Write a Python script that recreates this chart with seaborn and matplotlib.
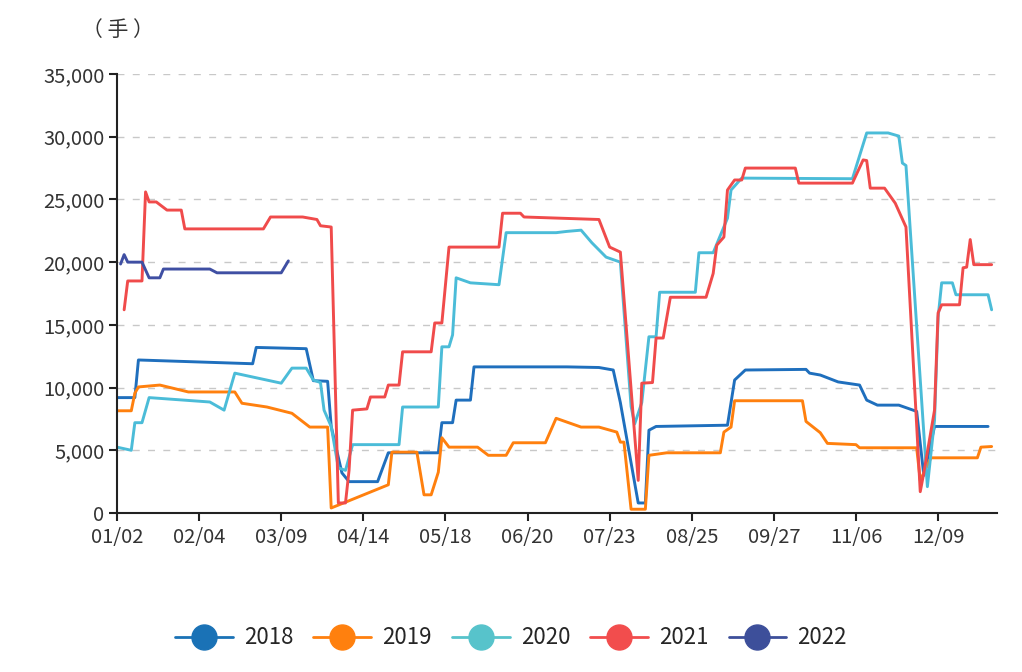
import matplotlib
matplotlib.use("Agg")
import matplotlib.pyplot as plt
from matplotlib.lines import Line2D
import seaborn as sns
import pandas as pd

# x = trading-day index from the first trading day (01/02); tick every 23 days
tick_labels = ["01/02", "02/04", "03/09", "04/14", "05/18", "06/20",
               "07/23", "08/25", "09/27", "11/06", "12/09"]

x2018 = [0, 5, 6, 38, 39, 53, 55, 59, 60, 63, 65, 73, 76, 90, 91, 94, 95, 99, 100,
         126, 135, 139, 141, 146, 148, 149, 151, 171, 173, 176, 193, 194, 197, 202,
         208, 210, 213, 219, 223, 224, 226, 229, 244]
y2018 = [9200, 9200, 12200, 11900, 13200, 13100, 10550, 10500, 6900, 3200, 2500,
         2500, 4800, 4800, 7200, 7200, 9000, 9000, 11650, 11650, 11600, 11400, 8800,
         800, 800, 6600, 6900, 7000, 10600, 11400, 11450, 11150, 11000, 10450, 10200,
         9000, 8600, 8600, 8200, 8100, 3000, 6900, 6900]

x2019 = [0, 4, 5, 6, 12, 20, 33, 35, 42, 49, 54, 59, 60, 76, 77, 84, 86, 88, 90, 91,
         93, 101, 104, 109, 111, 120, 123, 127, 130, 135, 140, 141, 142, 144, 148,
         149, 154, 169, 170, 172, 173, 192, 193, 197, 199, 207, 208, 224, 225, 228,
         241, 242, 245]
y2019 = [8150, 8150, 9550, 10050, 10200, 9650, 9650, 8750, 8450, 7950, 6850, 6850,
         400, 2250, 4850, 4850, 1450, 1450, 3250, 6000, 5250, 5250, 4600, 4600, 5600,
         5600, 7550, 7150, 6850, 6850, 6450, 5650, 5650, 300, 300, 4600, 4800, 4800,
         6450, 6850, 8950, 8950, 7300, 6400, 5550, 5450, 5200, 5200, 2600, 4400, 4400,
         5250, 5300]

x2020 = [0, 4, 5, 7, 9, 26, 30, 33, 46, 49, 53, 55, 57, 58, 60, 62, 64, 66, 79, 80,
         90, 91, 93, 94, 95, 99, 107, 109, 123, 126, 130, 133, 137, 141, 144, 145,
         147, 149, 151, 152, 162, 163, 167, 171, 172, 175, 206, 210, 216, 219, 220,
         221, 227, 229, 230, 231, 234, 235, 244, 245]
y2020 = [5250, 5000, 7200, 7200, 9200, 8850, 8200, 11150, 10350, 11550, 11550, 10600,
         10400, 8200, 6900, 3600, 3400, 5450, 5450, 8450, 8450, 13250, 13250, 14200,
         18750, 18350, 18200, 22350, 22350, 22450, 22550, 21550, 20400, 20000, 8500,
         7100, 8800, 14050, 14050, 17600, 17600, 20750, 20750, 23500, 25750, 26700,
         26650, 30300, 30300, 30050, 27900, 27700, 2100, 7400, 15600, 18350, 18350,
         17400, 17400, 16200]

x2021 = [2, 3, 7, 8, 9, 11, 14, 18, 19, 41, 43, 52, 56, 57, 60, 62, 64, 65, 66, 70,
         71, 75, 76, 79, 80, 88, 89, 91, 93, 107, 108, 113, 114, 135, 138, 141, 146,
         147, 150, 151, 153, 155, 165, 167, 168, 170, 171, 173, 175, 176, 190, 191,
         206, 209, 210, 211, 215, 218, 221, 225, 226, 229, 230, 231, 236, 237, 238,
         239, 240, 245]
y2021 = [16200, 18500, 18500, 25600, 24800, 24800, 24150, 24150, 22650, 22650, 23600,
         23600, 23400, 22900, 22800, 800, 800, 3400, 8200, 8300, 9250, 9250, 10200,
         10200, 12850, 12850, 15150, 15150, 21200, 21200, 23900, 23900, 23600, 23400,
         21200, 20800, 2600, 10350, 10400, 13950, 13950, 17200, 17200, 19100, 21350,
         22000, 25750, 26550, 26550, 27500, 27500, 26300, 26300, 28150, 28100, 25900,
         25900, 24700, 22800, 1700, 3200, 8200, 15950, 16600, 16600, 19550, 19600,
         21800, 19800, 19800]

x2022 = [1, 2, 3, 7, 9, 12, 13, 26, 28, 46, 48]
y2022 = [19850, 20600, 20000, 20000, 18750, 18750, 19450, 19450, 19150, 19150, 20100]

years = ["2018", "2019", "2020", "2021", "2022"]
line_colors = ["#1f6fbd", "#ff800e", "#4bbcd8", "#f04b4b", "#3f4fa3"]
legend_colors = ["#1a72b6", "#ff800e", "#57c3cb", "#f24d4d", "#3d4f9a"]

frames = []
for yr, xs, ys in zip(years, [x2018, x2019, x2020, x2021, x2022],
                      [y2018, y2019, y2020, y2021, y2022]):
    frames.append(pd.DataFrame({"day": xs, "value": ys, "year": yr}))
df = pd.concat(frames, ignore_index=True)

sns.set_theme(style="white")
plt.rcParams['font.family'] = ['Noto Sans CJK SC', 'DejaVu Sans']

fig = plt.figure(figsize=(10.22, 6.72), dpi=100)
ax = fig.add_axes([117 / 1022, 1 - 513 / 672, (997 - 117) / 1022, (513 - 74) / 672])

for yr, col in zip(years, line_colors):
    sub = df[df["year"] == yr]
    sns.lineplot(data=sub, x="day", y="value", ax=ax, color=col, linewidth=2.1,
                 estimator=None, sort=False, legend=False)

ax.set_xlim(0, 246.5)
ax.set_ylim(0, 35000)
ax.set_xticks([i * 23 for i in range(len(tick_labels))])
ax.set_xticklabels(tick_labels)
ax.set_yticks(range(0, 35001, 5000))
ax.set_yticklabels([f"{v:,}" for v in range(0, 35001, 5000)])
ax.set_xlabel("")
ax.set_ylabel("")

for v in range(5000, 35001, 5000):
    ax.axhline(v, color="#c8c8c8", linestyle=(0, (5, 6)), linewidth=1.0, zorder=0)

for side in ["top", "right"]:
    ax.spines[side].set_visible(False)
for side in ["left", "bottom"]:
    ax.spines[side].set_color("#222222")
    ax.spines[side].set_linewidth(1.5)
ax.tick_params(axis="both", which="major", direction="out", length=6, width=1.5,
               color="#222222", labelsize=14.5, labelcolor="#333333",
               left=True, bottom=True)
ax.tick_params(axis="x", pad=4)
ax.tick_params(axis="y", pad=3)

fig.text(118 / 1022, 1 - 30 / 672, "（ 手 ）", ha="center", va="center",
         fontsize=15, color="#333333")

handles = [Line2D([0], [0], color=c, linewidth=2, marker="o", markersize=18,
                  markerfacecolor=c, markeredgecolor=c) for c in legend_colors]
fig.legend(handles, years, loc="center", bbox_to_anchor=(0.5, 1 - 638 / 672),
           ncol=5, frameon=False, fontsize=16, handlelength=2.6,
           columnspacing=0.9, handletextpad=0.5)

fig.savefig("out.png", dpi=100, facecolor="white")
